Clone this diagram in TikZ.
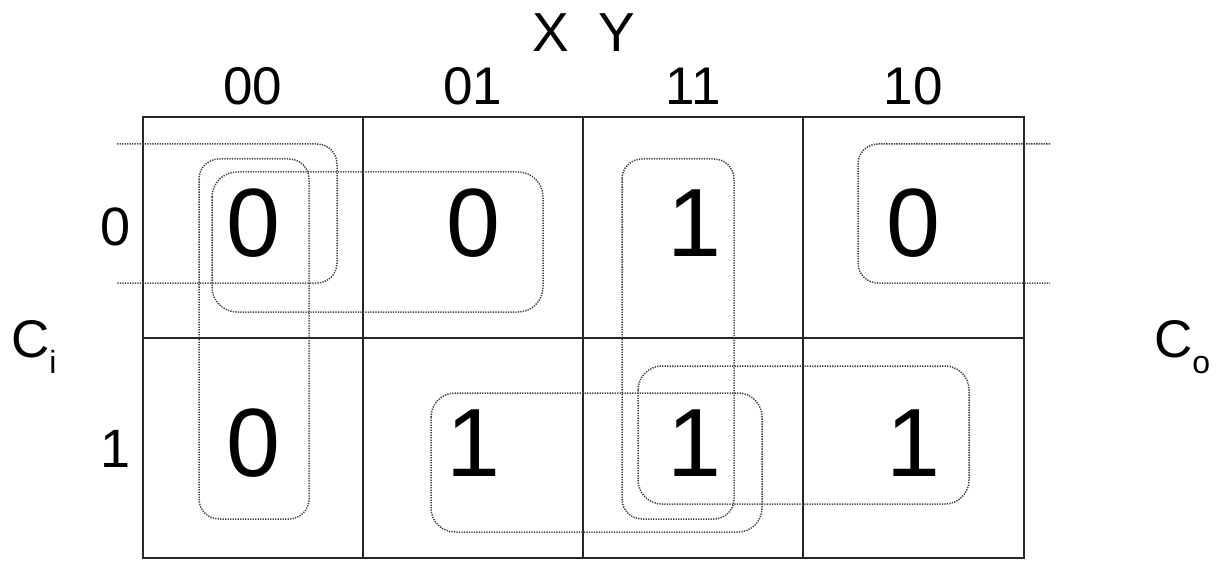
\documentclass[tikz,border=0pt]{standalone}
\usepackage{fontspec}
\setmainfont{Liberation Sans}
\begin{document}
\begin{tikzpicture}[x=1pt,y=-1pt,
  gridline/.style={line width=1.8pt, black!85},
  kloop/.style={line width=1.5pt, black!75, dash pattern=on 1.3pt off 1.2pt, rounded corners=20pt},
  cellval/.style={anchor=base, inner sep=0pt, font=\fontsize{97}{97}\selectfont},
  collab/.style={anchor=base, inner sep=0pt, font=\fontsize{53}{53}\selectfont},
  rowlab/.style={anchor=base, inner sep=0pt, font=\fontsize{54}{54}\selectfont},
  varlab/.style={anchor=base west, inner sep=0pt, font=\fontsize{53}{53}\selectfont},
]
\useasboundingbox (0,0) rectangle (1225,561);
% grid
\draw[gridline] (143,117) rectangle (1024,558);
\draw[gridline] (363,117) -- (363,558);
\draw[gridline] (583,117) -- (583,558);
\draw[gridline] (803,117) -- (803,558);
\draw[gridline] (143,338) -- (1024,338);
% headings
\node[anchor=base, inner sep=0pt, font=\fontsize{55}{55}\selectfont] (xy) at (584,52) {X\hspace{30pt}Y};
\node[collab] (c00) at (253,105) {00};
\node[collab] (c01) at (473,105) {01};
\node[collab] (c11) at (693,105) {11};
\node[collab] (c10) at (913,105) {10};
\node[rowlab] (r0) at (116,245) {0};
\node[rowlab] (r1) at (116,467) {1};
\node[varlab] (ci) at (11,357) {C\raisebox{-16pt}{\fontsize{32}{32}\selectfont i}};
\node[varlab] (co) at (1154,357) {C\raisebox{-16pt}{\fontsize{32}{32}\selectfont o}};
% cell values
\node[cellval] (v00) at (253,257) {0};
\node[cellval] (v01) at (473,257) {0};
\node[cellval] (v11) at (694,257) {1};
\node[cellval] (v10) at (913,257) {0};
\node[cellval] (w00) at (253,476) {0};
\node[cellval] (w01) at (473,476) {1};
\node[cellval] (w11) at (694,476) {1};
\node[cellval] (w10) at (913,476) {1};
% groupings
\draw[kloop] (117,144) -- (337,144) -- (337,283) -- (117,283);
\draw[kloop] (1050,144) -- (858,144) -- (858,283) -- (1050,283);
\draw[kloop] (199,159) rectangle (309,519);
\draw[kloop, rounded corners=25pt] (212,172) rectangle (543,312);
\draw[kloop] (622,159) rectangle (734,519);
\draw[kloop, rounded corners=24pt] (431,393) rectangle (762,532);
\draw[kloop, rounded corners=24pt] (638,366) rectangle (969,504);
\end{tikzpicture}
\end{document}
